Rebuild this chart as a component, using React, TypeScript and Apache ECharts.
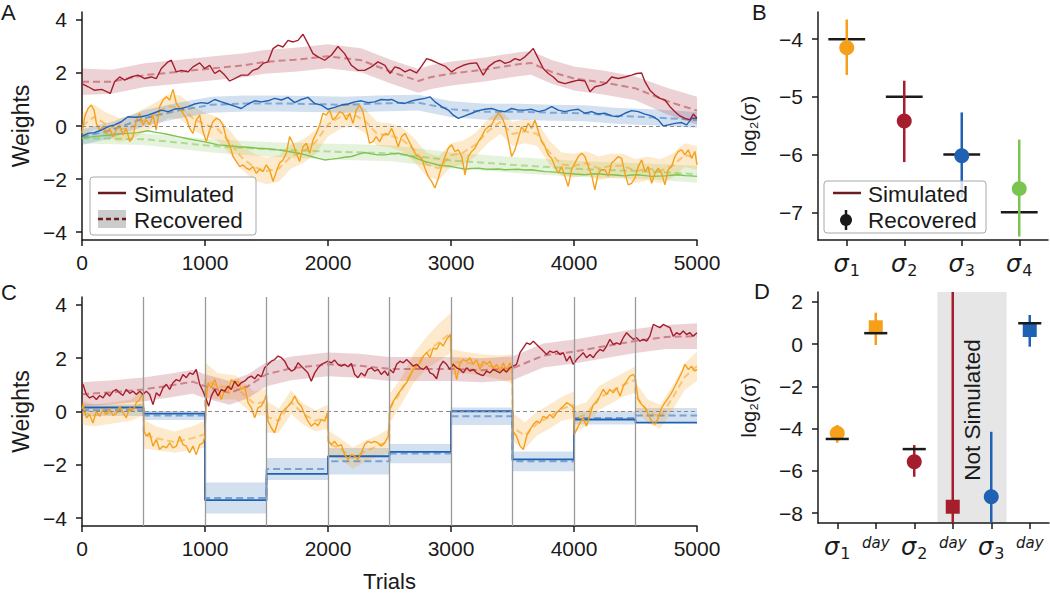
import React, { useEffect, useRef } from "react";
import * as echarts from "echarts";

const FONT = "'Liberation Sans', Arial, Helvetica, sans-serif";
const MATH_FONT = "'DejaVu Sans', sans-serif";
const INK = "#1a1a1a";
const RED = "#a61e2d";
const BLUE = "#1f62b3";
const ORANGE = "#f6a01a";
const GREEN = "#7cc450";
const LEGEND_RED = "#6b1c1e";

// ---------- Panel A : simulated weights [trial, value] ----------
const A_RED = [[0,1.6],[50,1.48],[100,1.35],[160,1.38],[200,1.3],[230,1.23],[265,1.67],[306,1.85],[347,1.73],[400,1.85],[455,1.92],[510,1.79],[563,1.85],[604,1.79],[645,2.17],[700,2.42],[726,2.48],[767,2.04],[808,2.1],[862,2.04],[902,2.23],[957,2.38],[997,2.17],[1038,2.29],[1079,1.98],[1119,2.1],[1160,1.92],[1200,1.7],[1241,1.79],[1295,1.92],[1350,1.92],[1390,2.1],[1431,2.17],[1472,2.36],[1512,2.42],[1553,2.92],[1594,3.05],[1634,2.98],[1675,3.23],[1716,3.17],[1756,3.23],[1797,3.46],[1837,3.11],[1878,2.73],[1919,2.61],[1973,2.48],[2027,2.67],[2081,3.0],[2135,2.73],[2190,2.29],[2244,2.1],[2298,2.1],[2352,2.23],[2406,2.42],[2463,2.29],[2504,1.98],[2544,2.23],[2585,2.17],[2626,2.04],[2666,2.13],[2720,2.0],[2761,2.26],[2802,2.54],[2842,2.48],[2897,2.36],[2951,2.26],[3005,2.04],[3046,2.17],[3100,2.29],[3154,2.36],[3208,2.38],[3262,1.92],[3303,2.23],[3357,2.42],[3398,2.48],[3439,2.36],[3479,2.42],[3520,2.54],[3561,2.48],[3601,2.61],[3642,2.79],[3669,2.92],[3710,2.54],[3750,2.17],[3791,1.98],[3832,1.85],[3872,1.67],[3926,1.6],[3981,1.67],[4035,1.73],[4089,1.7],[4130,1.29],[4170,1.48],[4225,1.54],[4265,1.63],[4306,1.85],[4360,1.79],[4414,1.85],[4468,1.92],[4509,1.98],[4550,2.0],[4577,1.67],[4617,1.35],[4658,1.17],[4699,1.04],[4739,0.98],[4780,0.73],[4821,0.54],[4861,0.38],[4902,0.29],[4943,0.23],[4970,0.45],[5000,0.29]];
const A_BLUE = [[0,-0.38],[50,-0.28],[100,-0.25],[160,-0.15],[210,-0.03],[265,0.04],[320,0.16],[374,0.35],[428,0.33],[482,0.35],[537,0.41],[591,0.5],[645,0.6],[700,0.54],[754,0.64],[808,0.66],[862,0.73],[916,0.83],[970,0.88],[1024,0.85],[1079,1.0],[1133,0.91],[1187,0.83],[1241,0.75],[1295,0.66],[1350,0.83],[1404,0.95],[1458,0.91],[1512,0.95],[1566,1.04],[1621,0.98],[1675,1.08],[1729,0.88],[1783,1.0],[1837,1.08],[1892,0.85],[1946,0.79],[2000,0.63],[2054,0.7],[2108,0.79],[2163,0.83],[2217,0.91],[2271,0.95],[2325,0.88],[2379,0.91],[2433,1.0],[2488,0.98],[2517,1.0],[2571,0.88],[2626,0.85],[2680,0.95],[2734,1.0],[2788,1.04],[2829,1.1],[2870,0.91],[2924,0.73],[2978,0.6],[3019,0.41],[3059,0.29],[3113,0.38],[3168,0.48],[3222,0.58],[3276,0.63],[3330,0.66],[3384,0.58],[3439,0.54],[3493,0.66],[3547,0.6],[3601,0.6],[3655,0.63],[3710,0.54],[3764,0.6],[3818,0.73],[3872,0.6],[3926,0.54],[3981,0.6],[4035,0.63],[4089,0.48],[4143,0.54],[4197,0.45],[4251,0.48],[4306,0.38],[4360,0.35],[4414,0.48],[4468,0.58],[4522,0.54],[4577,0.45],[4631,0.38],[4685,0.23],[4726,0.0],[4767,0.04],[4821,0.1],[4875,0.13],[4916,0.04],[4957,0.29],[5000,0.29]];
const A_ORANGE = [[0,-0.28],[22,0.35],[49,0.66],[76,0.79],[98,0.6],[117,0.1],[144,-0.15],[171,-0.03],[198,-0.28],[225,-0.09],[252,-0.4],[279,-0.15],[306,0.04],[333,-0.34],[360,-0.09],[388,-0.59],[415,-0.4],[442,0.23],[469,0.48],[496,0.04],[523,0.23],[550,0.04],[577,0.41],[604,-0.15],[631,0.73],[659,0.98],[686,1.1],[713,0.98],[740,1.38],[767,0.85],[794,0.66],[821,0.48],[848,0.29],[875,-0.09],[902,-0.28],[929,0.23],[957,0.41],[984,-0.21],[1011,-0.59],[1038,-0.15],[1065,0.16],[1092,0.29],[1119,0.23],[1146,0.04],[1173,-0.46],[1200,-0.71],[1228,-1.15],[1255,-1.34],[1282,-1.53],[1309,-1.47],[1336,-1.59],[1363,-1.65],[1390,-1.53],[1417,-1.78],[1444,-1.63],[1471,-1.72],[1498,-1.47],[1525,-1.65],[1553,-2.09],[1580,-1.72],[1607,-1.4],[1634,-1.28],[1661,-1.03],[1688,-0.4],[1715,-0.65],[1742,-1.03],[1769,-1.34],[1797,-0.78],[1824,-0.65],[1851,-1.03],[1878,-0.53],[1905,-0.28],[1932,0.04],[1959,0.48],[1986,0.41],[2013,0.6],[2040,0.23],[2067,0.35],[2095,0.54],[2122,0.48],[2149,0.23],[2176,0.48],[2203,0.1],[2230,0.6],[2257,0.79],[2284,0.54],[2311,-0.09],[2338,-0.65],[2365,-0.59],[2392,-0.4],[2420,-0.59],[2447,-0.34],[2474,-0.28],[2490,-0.34],[2517,-0.09],[2544,-0.4],[2571,-0.78],[2598,-0.4],[2626,-0.28],[2653,-0.53],[2680,-0.78],[2707,-1.03],[2734,-1.15],[2761,-1.22],[2788,-1.59],[2815,-1.9],[2842,-2.09],[2869,-2.34],[2897,-1.97],[2924,-1.53],[2951,-1.15],[2978,-0.84],[3005,-0.71],[3032,-0.96],[3059,-0.9],[3087,-1.15],[3114,-1.84],[3141,-1.15],[3168,-0.96],[3195,-0.84],[3222,-0.59],[3249,-0.4],[3276,-0.15],[3303,-0.03],[3330,0.04],[3357,0.29],[3384,0.48],[3412,0.35],[3439,0.04],[3466,-0.53],[3493,-1.15],[3520,-0.9],[3547,-0.46],[3574,-0.03],[3601,-0.21],[3628,0.1],[3655,-0.09],[3682,0.23],[3710,-0.21],[3737,-0.59],[3764,-0.78],[3791,-1.09],[3818,-1.22],[3845,-1.53],[3872,-1.78],[3899,-1.53],[3926,-1.9],[3953,-2.28],[3980,-1.65],[4007,-1.4],[4035,-1.15],[4062,-1.03],[4089,-1.15],[4116,-1.53],[4143,-1.84],[4170,-2.41],[4197,-1.78],[4225,-1.65],[4252,-1.65],[4279,-1.9],[4306,-1.4],[4333,-1.28],[4360,-1.15],[4387,-1.22],[4414,-1.78],[4441,-2.22],[4468,-2.16],[4495,-1.97],[4522,-1.53],[4550,-1.28],[4577,-1.72],[4604,-1.53],[4631,-2.16],[4658,-1.78],[4685,-1.59],[4712,-1.78],[4739,-2.22],[4766,-1.65],[4793,-1.53],[4821,-1.15],[4848,-0.96],[4875,-0.9],[4902,-1.09],[4929,-0.9],[4956,-1.22],[4983,-0.96],[5000,-1.47]];
const A_GREEN = [[0,-0.46],[65,-0.42],[130,-0.38],[210,-0.35],[293,-0.3],[370,-0.28],[455,-0.25],[537,-0.18],[580,-0.22],[618,-0.25],[700,-0.32],[780,-0.4],[860,-0.48],[943,-0.55],[1020,-0.62],[1106,-0.71],[1190,-0.74],[1268,-0.78],[1350,-0.8],[1431,-0.84],[1510,-0.86],[1594,-0.9],[1680,-0.96],[1756,-1.03],[1810,-1.08],[1865,-1.15],[1920,-1.22],[1973,-1.28],[2030,-1.25],[2081,-1.22],[2135,-1.18],[2190,-1.15],[2245,-1.07],[2298,-1.0],[2352,-1.05],[2406,-1.09],[2463,-1.09],[2515,-1.05],[2571,-1.03],[2625,-1.08],[2680,-1.15],[2735,-1.25],[2788,-1.34],[2840,-1.4],[2897,-1.47],[2950,-1.5],[3005,-1.53],[3060,-1.58],[3113,-1.63],[3168,-1.6],[3222,-1.59],[3276,-1.62],[3330,-1.63],[3385,-1.62],[3439,-1.65],[3493,-1.64],[3547,-1.63],[3600,-1.66],[3655,-1.65],[3710,-1.69],[3764,-1.72],[3818,-1.73],[3872,-1.75],[3926,-1.78],[3981,-1.8],[4035,-1.82],[4089,-1.84],[4143,-1.81],[4197,-1.8],[4251,-1.83],[4306,-1.84],[4360,-1.86],[4414,-1.88],[4468,-1.85],[4522,-1.84],[4577,-1.87],[4631,-1.9],[4685,-1.89],[4739,-1.88],[4793,-1.86],[4848,-1.84],[4902,-1.87],[4950,-1.88],[5000,-1.9]];

// recovered mean and band half-width [trial, mean, half]
const A_RED_REC = [[0,1.67,0.5],[240,1.67,0.45],[510,1.92,0.45],[780,2.04,0.45],[1050,2.17,0.45],[1320,2.29,0.45],[1485,2.42,0.45],[1730,2.5,0.45],[2000,2.63,0.45],[2270,2.48,0.45],[2515,2.04,0.45],[2734,1.7,0.45],[2842,1.85,0.45],[3005,1.98,0.45],[3276,2.13,0.45],[3547,2.33,0.45],[3650,2.38,0.45],[3818,2.04,0.45],[4000,1.79,0.45],[4250,1.63,0.45],[4500,1.42,0.45],[4750,0.95,0.5],[5000,0.58,0.52]];
const A_BLUE_REC = [[0,-0.42,0.3],[240,-0.15,0.3],[510,0.3,0.3],[780,0.58,0.3],[1050,0.8,0.3],[1320,0.85,0.3],[1594,0.85,0.3],[1865,0.83,0.3],[2135,0.8,0.3],[2406,0.85,0.3],[2734,0.88,0.3],[3005,0.63,0.3],[3276,0.54,0.3],[3547,0.54,0.3],[3818,0.5,0.3],[4089,0.48,0.3],[4360,0.38,0.3],[4631,0.33,0.3],[4767,0.29,0.3],[5000,0.23,0.3]];
const A_ORANGE_REC = [[0,0.0,0.45],[100,0.35,0.45],[200,0.05,0.45],[300,-0.15,0.45],[400,-0.05,0.45],[500,0.2,0.45],[600,0.45,0.45],[700,0.75,0.45],[800,0.7,0.45],[900,0.3,0.45],[1000,0.05,0.45],[1100,-0.1,0.45],[1200,-0.6,0.45],[1300,-1.2,0.45],[1400,-1.55,0.5],[1500,-1.7,0.5],[1600,-1.6,0.5],[1700,-1.15,0.45],[1800,-0.95,0.45],[1900,-0.6,0.45],[2000,0.05,0.45],[2100,0.35,0.45],[2200,0.45,0.45],[2300,0.2,0.45],[2400,-0.3,0.45],[2500,-0.35,0.45],[2600,-0.5,0.45],[2700,-0.9,0.45],[2800,-1.45,0.45],[2900,-1.6,0.45],[3000,-1.1,0.45],[3100,-1.0,0.45],[3200,-0.7,0.45],[3300,-0.2,0.45],[3400,0.15,0.45],[3500,-0.3,0.45],[3600,-0.2,0.45],[3700,-0.3,0.45],[3800,-1.0,0.45],[3900,-1.45,0.45],[4000,-1.5,0.45],[4100,-1.4,0.45],[4200,-1.6,0.45],[4300,-1.5,0.45],[4400,-1.5,0.45],[4500,-1.7,0.45],[4600,-1.6,0.45],[4700,-1.7,0.45],[4800,-1.5,0.45],[4900,-1.1,0.45],[5000,-1.2,0.45]];
const A_GREEN_REC = [[0,-0.46,0.2],[510,-0.5,0.22],[1050,-0.75,0.25],[1594,-0.9,0.28],[2135,-0.98,0.3],[2515,-1.03,0.3],[3005,-1.3,0.3],[3547,-1.48,0.3],[4089,-1.63,0.3],[4631,-1.72,0.3],[5000,-1.82,0.32]];

// ---------- Panel C ----------
const C_DAYS = [0, 500, 1000, 1500, 2000, 2500, 3000, 3500, 4000, 4500, 5000];
const C_BLUE_SIM = [0.15, -0.08, -3.33, -2.34, -1.68, -1.52, 0.01, -1.8, -0.3, -0.42];
const C_BLUE_REC = [0.05, -0.15, -3.25, -2.16, -1.87, -1.58, -0.18, -1.87, -0.24, -0.15];
const C_BLUE_HALF = [0.22, 0.17, 0.58, 0.41, 0.5, 0.36, 0.33, 0.37, 0.25, 0.28];
const C_RED = [[0,0.95],[8,1.02],[35,0.64],[62,0.51],[89,0.58],[117,0.45],[144,0.6],[171,0.51],[198,0.7],[225,0.58],[252,0.76],[279,0.83],[306,0.7],[333,0.6],[360,0.83],[388,0.68],[415,0.76],[442,0.64],[469,0.76],[496,0.64],[523,0.76],[550,0.64],[577,0.26],[604,0.7],[631,0.58],[659,0.89],[686,1.02],[713,0.83],[740,1.08],[767,1.2],[794,1.14],[821,1.39],[848,1.27],[875,1.45],[902,1.39],[929,1.58],[957,1.02],[984,0.76],[1011,0.45],[1030,0.2],[1051,0.58],[1079,0.83],[1106,0.58],[1133,0.83],[1160,0.76],[1187,0.95],[1214,0.83],[1241,1.14],[1268,0.95],[1295,1.08],[1322,1.14],[1350,1.27],[1377,1.33],[1404,1.23],[1431,1.39],[1458,1.3],[1485,1.64],[1512,1.77],[1539,1.89],[1566,1.95],[1594,2.08],[1621,2.02],[1648,1.89],[1675,1.64],[1702,1.52],[1729,1.58],[1756,1.83],[1783,1.7],[1810,1.58],[1837,1.45],[1864,1.14],[1892,1.45],[1919,1.64],[1946,1.77],[1973,1.83],[2000,1.89],[2027,1.83],[2054,1.93],[2081,1.77],[2108,1.7],[2135,1.77],[2163,1.68],[2190,1.8],[2217,1.39],[2244,1.27],[2271,1.45],[2298,1.33],[2325,1.58],[2352,1.64],[2379,1.52],[2406,1.58],[2433,1.39],[2461,1.52],[2488,1.35],[2504,1.58],[2531,1.45],[2558,1.77],[2585,1.89],[2612,1.83],[2639,1.95],[2666,1.83],[2693,1.7],[2720,1.77],[2748,1.64],[2775,1.58],[2802,1.7],[2829,1.45],[2856,1.39],[2883,1.23],[2910,1.7],[2937,1.89],[2964,1.77],[2991,1.58],[3019,1.77],[3046,1.64],[3073,1.58],[3100,1.45],[3127,1.64],[3154,1.52],[3181,1.58],[3208,1.45],[3235,1.39],[3262,1.35],[3290,1.52],[3317,1.45],[3344,1.58],[3371,1.52],[3398,1.45],[3425,1.58],[3452,1.48],[3479,1.64],[3506,1.7],[3533,1.77],[3561,2.21],[3588,2.39],[3615,2.58],[3642,2.52],[3669,2.64],[3696,2.52],[3723,2.39],[3750,2.27],[3777,2.14],[3804,2.27],[3832,2.21],[3859,2.27],[3886,2.14],[3913,2.21],[3940,1.89],[3967,2.08],[3994,1.77],[4021,1.95],[4048,2.08],[4075,2.21],[4102,2.02],[4130,2.14],[4157,2.02],[4184,2.21],[4211,2.33],[4238,2.27],[4265,2.46],[4292,2.71],[4319,2.52],[4346,2.58],[4374,2.52],[4401,2.77],[4428,2.96],[4455,2.83],[4482,2.71],[4509,2.77],[4536,2.64],[4563,2.71],[4590,2.64],[4617,2.83],[4645,3.27],[4672,3.21],[4699,3.15],[4726,3.27],[4753,3.21],[4780,3.15],[4807,2.83],[4834,2.96],[4861,2.89],[4888,3.02],[4915,2.89],[4942,2.96],[4969,2.83],[5000,2.96]];
const C_ORANGE = [[0,0.1],[8,0.26],[35,-0.24],[62,-0.11],[89,-0.43],[117,0.01],[144,-0.18],[171,0.08],[198,-0.11],[225,0.1],[252,-0.15],[279,-0.08],[306,0.2],[333,-0.03],[360,-0.24],[388,0.14],[415,0.05],[442,0.33],[469,0.45],[496,0.7],[505,-0.74],[523,-0.93],[550,-0.8],[577,-1.3],[604,-1.05],[631,-1.43],[659,-1.3],[686,-1.37],[713,-1.18],[740,-1.37],[767,-1.3],[794,-0.93],[821,-1.24],[848,-1.3],[875,-1.55],[902,-1.3],[929,-1.62],[957,-1.24],[984,-1.18],[999,-0.93],[1011,0.45],[1024,1.08],[1051,0.89],[1079,1.2],[1106,0.83],[1133,0.45],[1160,0.83],[1187,0.7],[1214,1.2],[1241,1.08],[1268,1.14],[1295,0.83],[1322,0.95],[1350,0.33],[1377,0.14],[1404,-0.24],[1431,0.14],[1458,0.2],[1485,0.45],[1499,0.64],[1512,-0.36],[1539,-0.61],[1566,-0.8],[1594,-0.36],[1621,-0.05],[1648,0.08],[1675,0.2],[1702,0.33],[1729,0.58],[1756,0.33],[1783,0.2],[1810,-0.11],[1837,-0.36],[1864,-0.55],[1892,-0.43],[1919,-0.53],[1946,-0.3],[1973,-0.36],[1995,-0.05],[2005,-1.12],[2027,-1.24],[2054,-1.12],[2081,-1.3],[2108,-1.24],[2135,-1.62],[2163,-1.8],[2190,-1.62],[2217,-1.68],[2244,-1.8],[2271,-1.55],[2298,-1.24],[2325,-1.12],[2352,-1.18],[2379,-1.12],[2406,-1.18],[2433,-1.3],[2461,-1.18],[2490,-0.93],[2502,0.08],[2531,0.39],[2558,0.58],[2585,0.76],[2612,0.95],[2639,1.08],[2666,1.33],[2693,1.58],[2720,1.7],[2748,1.83],[2775,2.08],[2802,2.21],[2829,2.02],[2856,2.39],[2883,2.33],[2910,2.58],[2937,2.46],[2964,2.71],[2995,2.89],[3004,1.7],[3019,1.83],[3046,1.2],[3073,1.83],[3100,1.95],[3127,1.89],[3154,2.02],[3181,1.77],[3208,1.95],[3235,1.58],[3262,1.89],[3290,1.77],[3317,1.89],[3344,1.58],[3371,1.77],[3398,1.52],[3425,1.83],[3452,1.52],[3479,1.83],[3498,1.58],[3504,-0.74],[3533,-0.93],[3561,-1.3],[3588,-1.43],[3615,-0.93],[3642,-0.68],[3669,-0.49],[3696,-0.36],[3723,-0.43],[3750,-0.18],[3777,-0.24],[3804,-0.11],[3832,-0.24],[3859,-0.05],[3886,0.08],[3913,0.2],[3940,0.33],[3967,0.26],[3994,0.14],[4002,-0.86],[4021,-0.68],[4048,-0.43],[4075,-0.24],[4102,-0.55],[4130,-0.11],[4157,0.26],[4184,0.33],[4211,0.58],[4238,0.83],[4265,0.64],[4292,0.83],[4319,0.7],[4346,0.89],[4374,0.58],[4401,0.95],[4428,1.14],[4455,1.33],[4482,1.39],[4497,1.27],[4522,0.45],[4550,0.26],[4577,0.14],[4604,-0.11],[4631,-0.36],[4658,-0.49],[4685,-0.24],[4712,0.14],[4739,0.33],[4766,0.51],[4793,0.7],[4821,0.95],[4848,1.2],[4875,1.45],[4902,1.77],[4929,1.58],[4956,1.7],[4983,1.52],[5000,1.58]];
const C_RED_REC = [[0,0.65,0.45],[250,0.72,0.45],[500,0.83,0.45],[750,1.0,0.45],[900,1.12,0.45],[1000,0.95,0.45],[1200,0.7,0.45],[1350,0.95,0.45],[1500,1.4,0.45],[1700,1.62,0.45],[2000,1.77,0.45],[2250,1.72,0.45],[2500,1.6,0.45],[2750,1.6,0.45],[3000,1.6,0.45],[3250,1.55,0.45],[3500,1.62,0.45],[3750,2.1,0.45],[4000,2.25,0.45],[4250,2.45,0.45],[4500,2.65,0.45],[4750,2.8,0.45],[5000,2.83,0.48]];
const C_ORANGE_REC = [[0,-0.05,0.45],[100,-0.15,0.4],[250,-0.05,0.4],[400,0.05,0.4],[499,0.35,0.5],[500,-0.85,0.55],[600,-1.0,0.45],[750,-1.15,0.4],[900,-1.0,0.45],[999,-0.85,0.5],[1000,1.2,0.65],[1100,0.95,0.5],[1250,0.9,0.45],[1400,0.3,0.45],[1499,0.35,0.5],[1500,-0.2,0.6],[1600,-0.35,0.45],[1700,0.35,0.45],[1800,-0.1,0.4],[1900,-0.35,0.4],[1999,-0.2,0.45],[2000,-1.2,0.5],[2100,-1.4,0.4],[2200,-1.75,0.4],[2300,-1.5,0.4],[2400,-1.3,0.4],[2499,-1.1,0.45],[2500,0.1,0.55],[2600,0.8,0.5],[2700,1.65,0.55],[2800,2.2,0.6],[2900,2.6,0.7],[2999,2.95,0.75],[3000,1.85,0.5],[3100,1.85,0.4],[3250,1.75,0.4],[3400,1.65,0.45],[3499,1.6,0.55],[3500,-0.6,0.55],[3600,-0.9,0.5],[3700,-0.45,0.45],[3800,-0.2,0.45],[3900,0.1,0.45],[3999,0.25,0.5],[4000,-0.3,0.5],[4100,-0.1,0.45],[4200,0.5,0.45],[4300,0.75,0.45],[4400,1.0,0.45],[4499,1.2,0.5],[4500,0.6,0.5],[4600,0.0,0.45],[4700,-0.2,0.45],[4800,0.5,0.45],[4900,1.3,0.5],[5000,1.7,0.55]];

// ---------- Panel B ----------
const B_LABELS = ["σ|1", "σ|2", "σ|3", "σ|4"];
const B_MEAN = [-4.15, -5.42, -6.02, -6.59];
const B_LO = [-4.62, -6.13, -6.75, -7.42];
const B_HI = [-3.66, -4.72, -5.27, -5.74];
const B_SIM = [-4, -5, -6, -7];
const B_COLORS = [ORANGE, RED, BLUE, GREEN];

// ---------- Panel D ----------
const D_LABELS = ["σ|1", "day", "σ|2", "day", "σ|3", "day"];
const D_MEAN = [-4.22, 0.8, -5.57, -7.7, -7.23, 0.67];
const D_LO = [-4.67, -0.04, -6.28, -8.47, -8.47, -0.12];
const D_HI = [-3.83, 1.49, -4.78, 2.47, -4.15, 1.38];
const D_SIM: (number | null)[] = [-4.49, 0.52, -4.97, null, null, 0.99];
const D_COLORS = [ORANGE, ORANGE, RED, RED, BLUE, BLUE];
const D_SHAPES = ["circle", "square", "circle", "square", "circle", "square"];
const D_NOT_SIM = [2.6, 4.4];

const fmtMinus = (v: number) => String(v).replace("-", "\u2212");

function alpha(hex: string, a: number) {
  const n = parseInt(hex.slice(1), 16);
  return `rgba(${(n >> 16) & 255},${(n >> 8) & 255},${n & 255},${a})`;
}

function bandSeries(grid: number, pts: number[][], color: string, z = 1) {
  return {
    type: "custom",
    xAxisIndex: grid,
    yAxisIndex: grid,
    silent: true,
    z,
    data: [[pts[0][0], pts[0][1]]],
    renderItem: (_p: any, api: any) => {
      const upper = pts.map((p) => api.coord([p[0], p[1] + p[2]]));
      const lower = pts.map((p) => api.coord([p[0], p[1] - p[2]])).reverse();
      return { type: "polygon", shape: { points: upper.concat(lower) }, style: { fill: color } };
    },
  };
}

function lineSeries(grid: number, data: number[][], color: string, width: number, dashed: boolean, opacity = 1, z = 3) {
  return {
    type: "line",
    xAxisIndex: grid,
    yAxisIndex: grid,
    data,
    showSymbol: false,
    symbol: "none",
    silent: true,
    z,
    lineStyle: { color, width, type: dashed ? [7, 4] : "solid", opacity },
  };
}

function stepPts(levels: number[], half?: number[]) {
  const out: number[][] = [];
  levels.forEach((v, i) => {
    const h = half ? half[i] : 0;
    out.push([C_DAYS[i], v, h]);
    out.push([C_DAYS[i + 1], v, h]);
  });
  return out;
}

function errSeries(grid: number, mean: number[], lo: number[], hi: number[], colors: string[], shapes: string[] | null, z: number) {
  return {
    type: "custom",
    xAxisIndex: grid,
    yAxisIndex: grid,
    silent: true,
    z,
    data: mean.map((m, i) => [i, m, lo[i], hi[i], i]),
    renderItem: (_p: any, api: any) => {
      const i = api.value(4);
      const x = api.value(0);
      const top = api.coord([x, api.value(3)]);
      const bot = api.coord([x, api.value(2)]);
      const c = api.coord([x, api.value(1)]);
      const color = colors[i];
      const isSq = shapes && shapes[i] === "square";
      const marker = isSq
        ? { type: "rect", shape: { x: c[0] - 7, y: c[1] - 7, width: 14, height: 14 }, style: { fill: color } }
        : { type: "circle", shape: { cx: c[0], cy: c[1], r: 7.5 }, style: { fill: color } };
      return {
        type: "group",
        children: [
          { type: "line", shape: { x1: top[0], y1: top[1], x2: bot[0], y2: bot[1] }, style: { stroke: color, lineWidth: 2.5 } },
          marker,
        ],
      };
    },
  };
}

function simSeries(grid: number, sims: (number | null)[], halfW: number, z: number) {
  const data: number[][] = [];
  sims.forEach((s, i) => { if (s !== null) data.push([i, s]); });
  return {
    type: "custom",
    xAxisIndex: grid,
    yAxisIndex: grid,
    silent: true,
    z,
    data,
    renderItem: (_p: any, api: any) => {
      const x = api.value(0);
      const y = api.value(1);
      const a = api.coord([x - halfW, y]);
      const b = api.coord([x + halfW, y]);
      return { type: "line", shape: { x1: a[0], y1: a[1], x2: b[0], y2: b[1] }, style: { stroke: INK, lineWidth: 2.5 } };
    },
  };
}

const axisLineStyle = { show: true, onZero: false, lineStyle: { color: INK, width: 1.5 } };
const tickStyle = { show: true, length: 6, lineStyle: { color: INK, width: 1.5 } };
const labelBase = { color: INK, fontSize: 21, fontFamily: FONT };

function trialAxis(grid: number, name?: string) {
  return {
    type: "value",
    gridIndex: grid,
    min: 0,
    max: 5000,
    interval: 1000,
    axisLine: axisLineStyle,
    axisTick: tickStyle,
    splitLine: { show: false },
    axisLabel: { ...labelBase, margin: 12, formatter: (v: number) => String(v) },
    name,
    nameLocation: "middle",
    nameGap: 44,
    nameTextStyle: { color: INK, fontSize: 22, fontFamily: FONT },
  };
}

function yValAxis(grid: number, min: number, max: number, ticks: number[], name: string, nameGap: number, nameSize: number) {
  return {
    type: "value",
    gridIndex: grid,
    min,
    max,
    axisLine: axisLineStyle,
    axisTick: { ...tickStyle, customValues: ticks },
    splitLine: { show: false },
    axisLabel: { ...labelBase, margin: 15, customValues: ticks, formatter: fmtMinus },
    name,
    nameLocation: "middle",
    nameRotate: 90,
    nameGap,
    nameTextStyle: { color: INK, fontSize: nameSize, fontFamily: FONT },
  };
}

function catAxis(grid: number, n: number, labels: string[]) {
  const vals = labels.map((_, i) => i);
  return {
    type: "value",
    gridIndex: grid,
    min: -0.5,
    max: n - 0.5,
    axisLine: axisLineStyle,
    axisTick: { ...tickStyle, customValues: vals },
    splitLine: { show: false },
    axisLabel: {
      ...labelBase,
      margin: 12,
      customValues: vals,
      formatter: (v: number) => {
        const l = labels[Math.round(v)];
        if (l === "day") return "{d|day}";
        const [g, k] = l.split("|");
        return `{s|${g}}{n|${k}}`;
      },
      rich: {
        s: { fontSize: 24, fontStyle: "italic", fontFamily: MATH_FONT, color: INK, verticalAlign: "bottom", padding: [0, 0, 2, 0] },
        n: { fontSize: 16, fontFamily: MATH_FONT, color: INK, verticalAlign: "bottom", padding: [0, 0, 0, 1] },
        d: { fontSize: 15, fontStyle: "italic", fontFamily: MATH_FONT, color: INK, verticalAlign: "bottom", padding: [0, 0, 5, 0] },
      },
    },
  };
}

export default function App() {
  const ref = useRef<HTMLDivElement>(null);
  useEffect(() => {
    if (!ref.current) return;
    const chart = echarts.init(ref.current, undefined, { renderer: "svg" });

    const zeroLine = {
      silent: true,
      symbol: "none",
      label: { show: false },
      lineStyle: { color: "#8a8a8a", width: 1.2, type: [4, 3] },
      data: [{ yAxis: 0 }],
    };

    const series: any[] = [
      // Panel A
      bandSeries(0, A_GREEN_REC, alpha(GREEN, 0.2)),
      bandSeries(0, A_ORANGE_REC, alpha(ORANGE, 0.22)),
      bandSeries(0, A_BLUE_REC, alpha(BLUE, 0.2)),
      bandSeries(0, A_RED_REC, alpha(RED, 0.2)),
      lineSeries(0, A_GREEN_REC.map((p) => [p[0], p[1]]), GREEN, 2, true, 0.5, 2),
      lineSeries(0, A_ORANGE_REC.map((p) => [p[0], p[1]]), ORANGE, 2, true, 0.5, 2),
      lineSeries(0, A_BLUE_REC.map((p) => [p[0], p[1]]), BLUE, 2, true, 0.45, 2),
      lineSeries(0, A_RED_REC.map((p) => [p[0], p[1]]), RED, 2, true, 0.45, 2),
      { ...lineSeries(0, A_GREEN, GREEN, 1.4, false), markLine: zeroLine },
      lineSeries(0, A_ORANGE, ORANGE, 1.4, false),
      lineSeries(0, A_BLUE, BLUE, 1.4, false),
      lineSeries(0, A_RED, RED, 1.4, false),
      // Panel C
      bandSeries(1, stepPts(C_BLUE_REC, C_BLUE_HALF), alpha(BLUE, 0.2)),
      bandSeries(1, C_ORANGE_REC, alpha(ORANGE, 0.22)),
      bandSeries(1, C_RED_REC, alpha(RED, 0.2)),
      lineSeries(1, stepPts(C_BLUE_REC).map((p) => [p[0], p[1]]), BLUE, 2, true, 0.5, 2),
      lineSeries(1, C_ORANGE_REC.map((p) => [p[0], p[1]]), ORANGE, 2, true, 0.5, 2),
      lineSeries(1, C_RED_REC.map((p) => [p[0], p[1]]), RED, 2, true, 0.45, 2),
      {
        ...lineSeries(1, stepPts(C_BLUE_SIM).map((p) => [p[0], p[1]]), BLUE, 1.8, false),
        markLine: {
          silent: true,
          symbol: "none",
          label: { show: false },
          lineStyle: { color: "#9a9a9a", width: 1.3, type: "solid" },
          data: C_DAYS.slice(1, -1).map((d) => ({ xAxis: d })),
        },
      },
      { ...lineSeries(1, C_ORANGE, ORANGE, 1.4, false), markLine: zeroLine },
      lineSeries(1, C_RED, RED, 1.4, false),
      // Panel B
      simSeries(2, B_SIM, 0.32, 4),
      errSeries(2, B_MEAN, B_LO, B_HI, B_COLORS, null, 5),
      // Panel D
      {
        type: "custom",
        xAxisIndex: 3,
        yAxisIndex: 3,
        silent: true,
        z: 0,
        data: [[D_NOT_SIM[0], 0]],
        renderItem: (p: any, api: any) => {
          const a = api.coord([D_NOT_SIM[0], 0]);
          const b = api.coord([D_NOT_SIM[1], 0]);
          const cs = p.coordSys;
          return { type: "rect", shape: { x: a[0], y: cs.y, width: b[0] - a[0], height: cs.height }, style: { fill: "#e6e6e6" } };
        },
      },
      errSeries(3, D_MEAN, D_LO, D_HI, D_COLORS, D_SHAPES, 4),
      simSeries(3, D_SIM, 0.3, 5),
    ];

    const txt = (text: string, x: number, y: number, size = 22, extra: any = {}) => ({
      type: "text",
      x,
      y,
      z: 100,
      ...extra,
      style: { text, fontSize: size, fontFamily: FONT, fill: INK, align: "left", verticalAlign: "middle", ...(extra.style || {}) },
    });

    const graphic: any[] = [
      txt("A", 1, 12, 22),
      txt("B", 752, 12, 22),
      txt("C", 1, 292, 22),
      txt("D", 754, 291, 22),
      // legend A
      { type: "rect", z: 90, shape: { x: 90, y: 177, width: 166, height: 58, r: 3 }, style: { fill: "rgba(255,255,255,0.8)", stroke: "#a8a8a8", lineWidth: 1 } },
      { type: "line", z: 91, shape: { x1: 98, y1: 193, x2: 126, y2: 193 }, style: { stroke: LEGEND_RED, lineWidth: 2.5 } },
      { type: "rect", z: 91, shape: { x: 98, y: 210, width: 28, height: 18 }, style: { fill: "#cccccc" } },
      { type: "line", z: 92, shape: { x1: 98, y1: 219, x2: 126, y2: 219 }, style: { stroke: LEGEND_RED, lineWidth: 2.5, lineDash: [5, 3] } },
      txt("Simulated", 134, 194, 22.5),
      txt("Recovered", 134, 220, 22.5),
      // legend B
      { type: "rect", z: 90, shape: { x: 824, y: 181, width: 162, height: 52, r: 3 }, style: { fill: "rgba(255,255,255,0.8)", stroke: "#a8a8a8", lineWidth: 1 } },
      { type: "line", z: 91, shape: { x1: 833, y1: 193, x2: 861, y2: 193 }, style: { stroke: LEGEND_RED, lineWidth: 2.5 } },
      { type: "line", z: 91, shape: { x1: 846, y1: 210, x2: 846, y2: 230 }, style: { stroke: INK, lineWidth: 2.5 } },
      { type: "circle", z: 92, shape: { cx: 846, cy: 220, r: 6 }, style: { fill: INK } },
      txt("Simulated", 868, 194, 22.5),
      txt("Recovered", 868, 220, 22.5),
      // Not simulated
      txt("Not Simulated", 972, 410, 22.5, { rotation: Math.PI / 2, style: { align: "center" } }),
    ];

    const gridBase = { outerBoundsMode: "none", containLabel: false };

    chart.setOption({
      animation: false,
      backgroundColor: "#ffffff",
      textStyle: { fontFamily: FONT },
      grid: [
        { ...gridBase, left: 82, top: 12, width: 615, height: 228 },
        { ...gridBase, left: 82, top: 297, width: 615, height: 229 },
        { ...gridBase, left: 818, top: 12, width: 230, height: 228 },
        { ...gridBase, left: 818, top: 292, width: 231, height: 231 },
      ],
      xAxis: [
        trialAxis(0),
        trialAxis(1, "Trials"),
        catAxis(2, 4, B_LABELS),
        catAxis(3, 6, D_LABELS),
      ],
      yAxis: [
        yValAxis(0, -4.3, 4.3, [-4, -2, 0, 2, 4], "Weights", 50, 23),
        yValAxis(1, -4.3, 4.3, [-4, -2, 0, 2, 4], "Weights", 50, 23),
        yValAxis(2, -7.48, -3.53, [-7, -6, -5, -4], "log₂(σ)", 59, 20),
        yValAxis(3, -8.47, 2.47, [-8, -6, -4, -2, 0, 2], "log₂(σ)", 59, 20),
      ],
      series,
      graphic,
    });
    return () => chart.dispose();
  }, []);
  return <div ref={ref} style={{ position: "fixed", left: 0, top: 0, width: 1050, height: 594 }} />;
}
